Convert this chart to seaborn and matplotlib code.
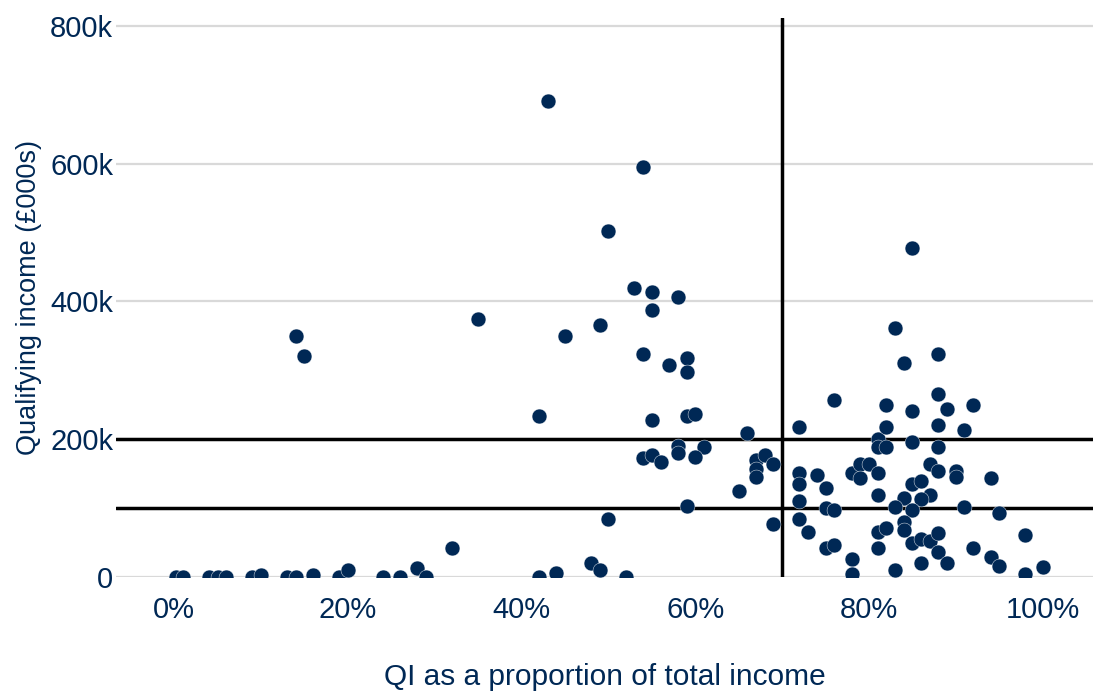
import numpy as np
import pandas as pd
import matplotlib.pyplot as plt
import seaborn as sns

# QI share of total income (%) and qualifying income (£)
qi_share = [0.2, 1, 4, 5, 6, 9, 10, 13, 14, 16, 19, 20, 24, 26, 28, 29, 32,
            14, 15, 35, 42, 44, 48, 49, 52,
            43, 54, 50, 53, 55, 58, 55, 49, 45, 54, 57, 59, 59,
            42, 55, 59, 60, 66, 58, 58, 61, 54, 55, 56, 60, 67, 67, 67, 65,
            59, 50, 68, 69, 69,
            72, 72, 72, 74, 75, 72, 75, 76, 72, 73, 75, 76, 78, 78, 76,
            78, 79, 80, 79, 81, 81, 81, 81, 82, 82, 82, 83, 84, 85, 85, 85,
            88, 88, 88, 88, 89, 92, 91, 87, 88, 90, 90, 94, 85, 86, 87, 86,
            84, 83, 85, 91, 95, 81, 82, 84, 84, 85, 86, 87, 88, 81, 88, 86,
            89, 92, 94, 95, 98, 98, 100, 83]
qi_income = [0, 0, 0, 0, 0, 0, 2000, 0, 0, 2000, 0, 10000, 0, 0, 12000, 0, 41000,
             349000, 321000, 375000, 0, 5000, 20000, 9000, 0,
             691000, 595000, 502000, 419000, 413000, 406000, 388000, 366000, 349000,
             324000, 307000, 317000, 297000,
             233000, 228000, 233000, 237000, 209000, 190000, 180000, 189000,
             173000, 176000, 167000, 174000, 170000, 157000, 144000, 124000,
             102000, 84000, 177000, 164000, 77000,
             218000, 150000, 135000, 148000, 129000, 110000, 99000, 96000, 84000,
             65000, 42000, 46000, 25000, 3000, 256000,
             150000, 163000, 163000, 143000, 150000, 119000, 200000, 188000,
             188000, 218000, 250000, 362000, 310000, 240000, 195000, 478000,
             324000, 265000, 221000, 189000, 244000, 249000, 213000, 164000,
             153000, 154000, 145000, 143000, 135000, 139000, 119000, 112000,
             114000, 101000, 96000, 101000, 92000, 65000, 70000, 79000, 67000,
             48000, 54000, 51000, 63000, 42000, 35000, 19000,
             20000, 42000, 29000, 16000, 61000, 4000, 14000, 10000]

x_line = 70
y_lines = [100000, 200000]
y_ticks = [0, 200000, 400000, 600000, 800000]
y_tick_labels = ["0", "200k", "400k", "600k", "800k"]
x_ticks = [0, 20, 40, 60, 80, 100]
x_tick_labels = ["0%", "20%", "40%", "60%", "80%", "100%"]

navy = "#002855"

sns.set_theme(style="white")
plt.rcParams["font.family"] = ["Liberation Sans", "DejaVu Sans"]

df = pd.DataFrame({"share": qi_share, "income": qi_income})

fig = plt.figure(figsize=(10.93, 6.92), dpi=100)
ax = fig.add_axes([0.1061, 0.1669, 0.8939, 0.807])

for y in y_ticks:
    ax.axhline(y, color="#d9d9d9", lw=1.6, zorder=0)

sns.scatterplot(data=df, x="share", y="income", ax=ax, color=navy, s=115,
                edgecolor="white", linewidth=0.3, zorder=3)

for y in y_lines:
    ax.axhline(y, color="black", lw=2.5, zorder=2)
ax.axvline(x_line, color="black", lw=2.5, zorder=2)

ax.set_xlim(-6.7, 105.8)
ax.set_ylim(0, 812000)
ax.set_xticks(x_ticks)
ax.set_xticklabels(x_tick_labels)
ax.set_yticks(y_ticks)
ax.set_yticklabels(y_tick_labels)
ax.tick_params(axis="x", length=0, pad=14, labelsize=21, labelcolor=navy)
ax.tick_params(axis="y", length=0, pad=2, labelsize=21, labelcolor=navy)

ax.set_xlabel("QI as a proportion of total income", fontsize=21.5, color=navy, labelpad=28)
ax.set_ylabel("Qualifying income (£000s)", fontsize=19.5, color=navy, labelpad=6)

sns.despine(ax=ax, left=True, bottom=True, top=True, right=True)

fig.savefig("out.png", dpi=100)
